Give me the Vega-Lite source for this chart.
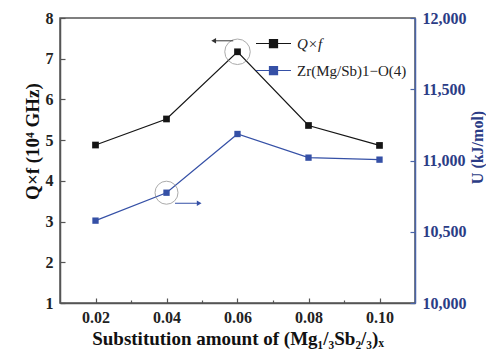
{
  "$schema": "https://vega.github.io/schema/vega-lite/v6.json",
  "width": 355,
  "height": 285,
  "autosize": "none",
  "padding": {"left": 60, "top": 18, "right": 71, "bottom": 47},
  "background": "white",
  "config": {
    "view": {"stroke": "#555", "strokeWidth": 1.5},
    "font": "Liberation Serif, Times New Roman, serif",
    "axis": {"grid": false, "labelFont": "Liberation Serif, Times New Roman, serif", "titleFont": "Liberation Serif, Times New Roman, serif", "labelFontWeight": "bold", "titleFontWeight": "bold", "labelFontSize": 16, "titleFontSize": 19, "domainWidth": 1.5, "tickWidth": 1.2}
  },
  "datasets": {
    "main": [
      {"x": 0.02, "series": "Q×f", "value": 4.88},
      {"x": 0.04, "series": "Q×f", "value": 5.52},
      {"x": 0.06, "series": "Q×f", "value": 7.17},
      {"x": 0.08, "series": "Q×f", "value": 5.36},
      {"x": 0.10, "series": "Q×f", "value": 4.87},
      {"x": 0.02, "series": "Zr(Mg/Sb)1−O(4)", "value": 10578},
      {"x": 0.04, "series": "Zr(Mg/Sb)1−O(4)", "value": 10774},
      {"x": 0.06, "series": "Zr(Mg/Sb)1−O(4)", "value": 11186},
      {"x": 0.08, "series": "Zr(Mg/Sb)1−O(4)", "value": 11020},
      {"x": 0.10, "series": "Zr(Mg/Sb)1−O(4)", "value": 11006}
    ]
  },
  "layer": [
    {
      "layer": [
        {
          "data": {"name": "main"},
          "transform": [{"filter": "datum.series === 'Q×f'"}],
          "mark": {"type": "line", "strokeWidth": 1.2},
          "encoding": {
            "x": {
              "field": "x", "type": "quantitative",
              "scale": {"domain": [0.01, 0.11], "nice": false},
              "axis": {
                "title": "Substitution amount of (Mg₁/₃Sb₂/₃)ₓ",
                "titleFontSize": 19,
                "values": [0.02, 0.03, 0.04, 0.05, 0.06, 0.07, 0.08, 0.09, 0.1],
                "labelExpr": "round(datum.value*100) % 2 == 0 ? format(datum.value, '.2f') : ''",
                "tickSize": {"condition": {"test": "round(datum.value*100) % 2 == 1", "value": -3}, "value": -5},
                "labelPadding": 11,
                "titleY": 35,
                "titleBaseline": "middle",
                "domainColor": "#555", "tickColor": "#555", "labelColor": "#222", "titleColor": "#111"
              }
            },
            "y": {
              "field": "value", "type": "quantitative",
              "scale": {"domain": [1, 8], "nice": false, "zero": false},
              "axis": {
                "orient": "left",
                "title": "Q×f (10⁴ GHz)",
                "titleX": -28,
                "titleY": 123,
                "titleAlign": "center",
                "titleBaseline": "middle",
                "titleAngle": 270,
                "values": [1, 1.5, 2, 2.5, 3, 3.5, 4, 4.5, 5, 5.5, 6, 6.5, 7, 7.5, 8],
                "labelExpr": "datum.value % 1 == 0 ? format(datum.value, 'd') : ''",
                "tickSize": {"condition": {"test": "datum.value % 1 != 0", "value": -3}, "value": -5},
                "labelPadding": 12,
                "domainColor": "#555", "tickColor": "#555", "labelColor": "#222", "titleColor": "#111"
              }
            },
            "color": {
              "field": "series", "type": "nominal",
              "scale": {"domain": ["Q×f", "Zr(Mg/Sb)1−O(4)"], "range": ["#151515", "#3550a6"]},
              "legend": {
                "orient": "none", "legendX": 195, "legendY": 7,
                "title": null,
                "symbolType": "M-1,0L1,0M-0.23,-0.23L0.23,-0.23L0.23,0.23L-0.23,0.23Z",
                "symbolSize": 1225,
                "symbolStrokeWidth": 1.2,
                "rowPadding": -16,
                "labelOffset": 5,
                "labelFont": "Liberation Serif, Times New Roman, serif", "labelFontSize": 15, "labelColor": "#222",
                "encode": {
                  "symbols": {"update": {"fill": {"scale": "color", "field": "value"}, "stroke": {"scale": "color", "field": "value"}}},
                  "labels": {"update": {"fontStyle": {"signal": "datum.value === 'Q×f' ? 'italic' : 'normal'"}}}
                }
              }
            }
          }
        },
        {
          "data": {"name": "main"},
          "transform": [{"filter": "datum.series === 'Q×f'"}],
          "mark": {"type": "point", "shape": "square", "filled": true, "size": 45, "opacity": 1},
          "encoding": {
            "x": {"field": "x", "type": "quantitative"},
            "y": {"field": "value", "type": "quantitative"},
            "color": {"field": "series", "type": "nominal"}
          }
        },
        {
          "data": {"values": [{"x": 0.06, "value": 7.17}]},
          "mark": {"type": "point", "shape": "circle", "filled": false, "size": 650, "stroke": "#888", "strokeWidth": 1},
          "encoding": {
            "x": {"field": "x", "type": "quantitative"},
            "y": {"field": "value", "type": "quantitative"}
          }
        },
        {
          "data": {"values": [{"x": 0.0533, "x2": 0.0588, "value": 7.44}]},
          "mark": {"type": "rule", "color": "#333", "strokeWidth": 1},
          "encoding": {
            "x": {"field": "x", "type": "quantitative"},
            "x2": {"field": "x2"},
            "y": {"field": "value", "type": "quantitative"}
          }
        },
        {
          "data": {"values": [{"x": 0.0533, "value": 7.44}]},
          "mark": {"type": "point", "shape": "triangle-left", "filled": true, "size": 30, "color": "#333", "opacity": 1},
          "encoding": {
            "x": {"field": "x", "type": "quantitative"},
            "y": {"field": "value", "type": "quantitative"}
          }
        }
      ]
    },
    {
      "layer": [
        {
          "data": {"name": "main"},
          "transform": [{"filter": "datum.series !== 'Q×f'"}],
          "mark": {"type": "line", "strokeWidth": 1.2},
          "encoding": {
            "x": {"field": "x", "type": "quantitative"},
            "y": {
              "field": "value", "type": "quantitative",
              "scale": {"domain": [10000, 12000], "nice": false, "zero": false},
              "axis": {
                "orient": "right",
                "title": "U (kJ/mol)",
                "titleFontSize": 16,
                "titleAngle": 270,
                "titleX": 62,
                "titleY": 129,
                "titleAlign": "center",
                "titleBaseline": "middle",
                "values": [10000, 10250, 10500, 10750, 11000, 11250, 11500, 11750, 12000],
                "labelExpr": "datum.value % 500 == 0 ? format(datum.value, ',') : ''",
                "tickSize": {"condition": {"test": "datum.value % 500 != 0", "value": -4}, "value": -5},
                "labelPadding": 12,
                "domainColor": "#4a64a8", "tickColor": "#4a64a8", "labelColor": "#2b3c86", "titleColor": "#2b3c86"
              }
            },
            "color": {"field": "series", "type": "nominal"}
          }
        },
        {
          "data": {"name": "main"},
          "transform": [{"filter": "datum.series !== 'Q×f'"}],
          "mark": {"type": "point", "shape": "square", "filled": true, "size": 40, "opacity": 1},
          "encoding": {
            "x": {"field": "x", "type": "quantitative"},
            "y": {"field": "value", "type": "quantitative"},
            "color": {"field": "series", "type": "nominal"}
          }
        },
        {
          "data": {"values": [{"x": 0.04, "value": 10774}]},
          "mark": {"type": "point", "shape": "circle", "filled": false, "size": 530, "stroke": "#888", "strokeWidth": 1},
          "encoding": {
            "x": {"field": "x", "type": "quantitative"},
            "y": {"field": "value", "type": "quantitative"}
          }
        },
        {
          "data": {"values": [{"x": 0.0424, "x2": 0.0492, "value": 10700}]},
          "mark": {"type": "rule", "color": "#3550a6", "strokeWidth": 1},
          "encoding": {
            "x": {"field": "x", "type": "quantitative"},
            "x2": {"field": "x2"},
            "y": {"field": "value", "type": "quantitative"}
          }
        },
        {
          "data": {"values": [{"x": 0.0492, "value": 10700}]},
          "mark": {"type": "point", "shape": "triangle-right", "filled": true, "size": 30, "color": "#3550a6", "opacity": 1},
          "encoding": {
            "x": {"field": "x", "type": "quantitative"},
            "y": {"field": "value", "type": "quantitative"}
          }
        }
      ]
    }
  ],
  "resolve": {"scale": {"y": "independent"}}
}
